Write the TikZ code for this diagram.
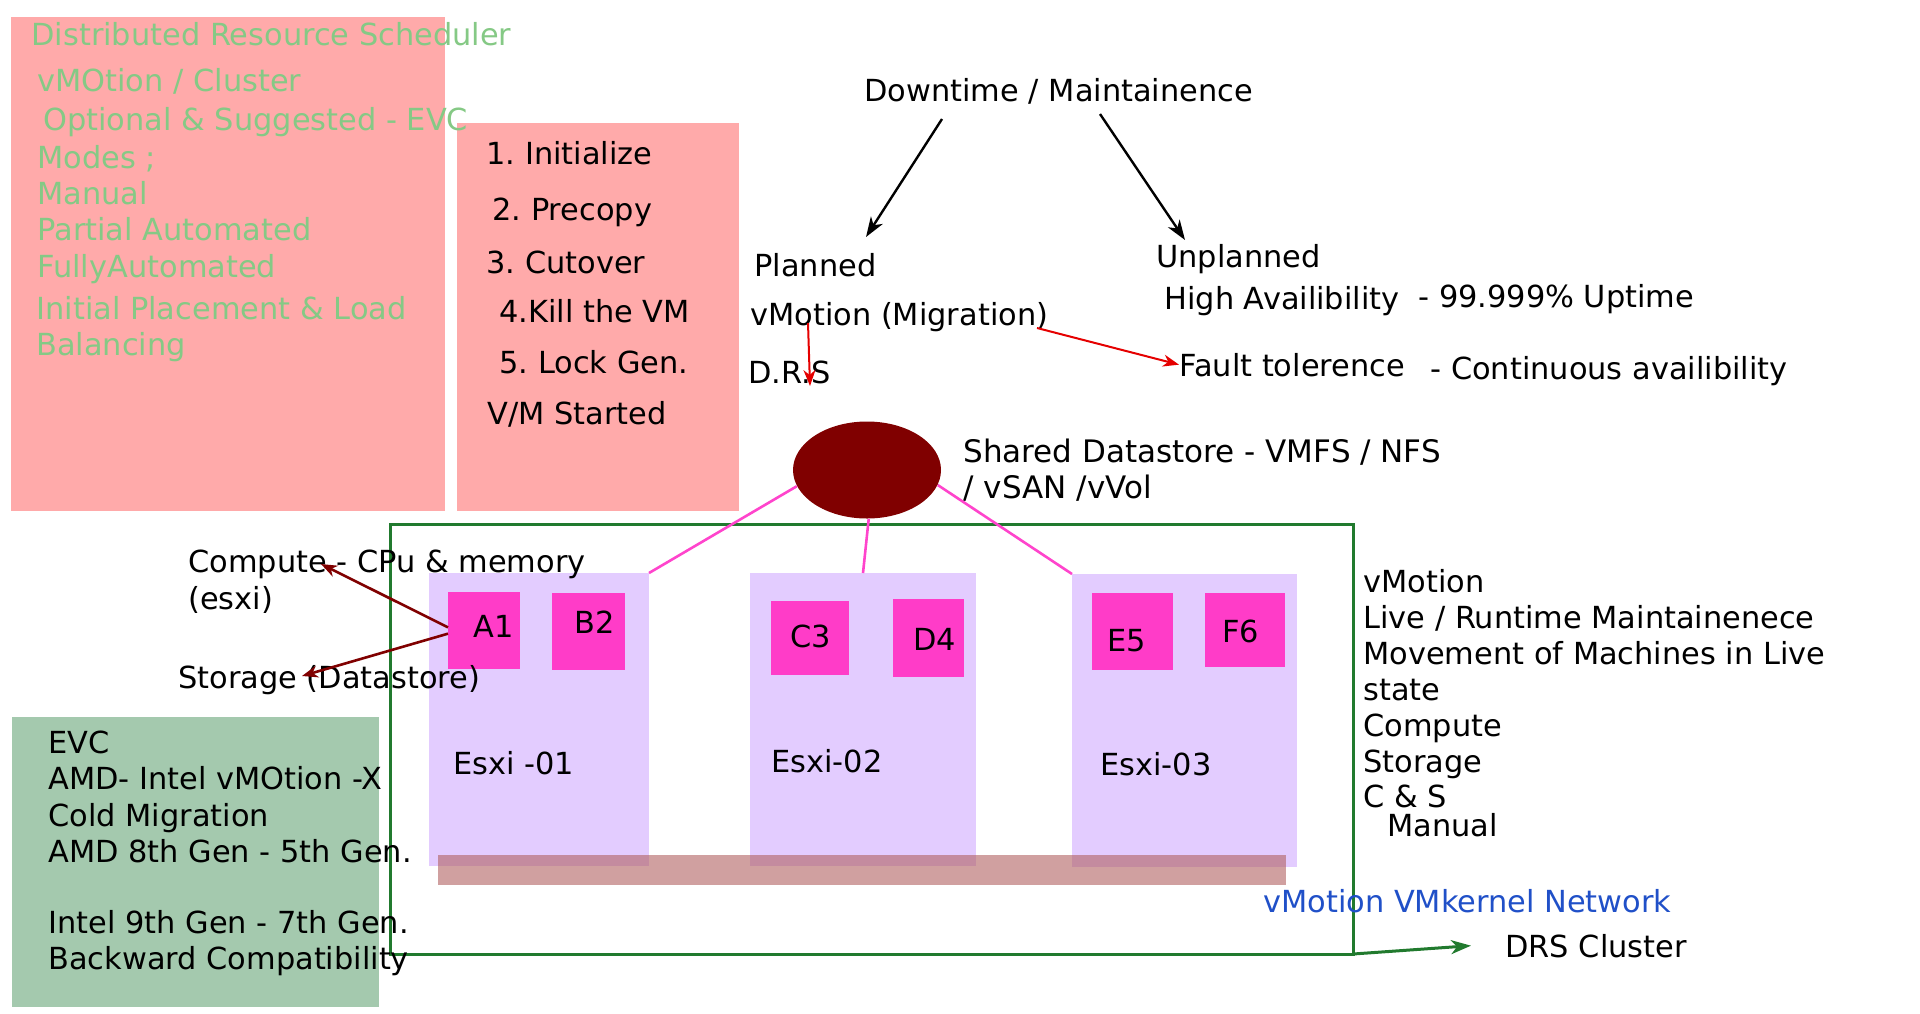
\documentclass[tikz,border=0pt]{standalone}
\usepackage{fontspec}
\setmainfont{DejaVu Sans}
\usepackage{tikz}
\usetikzlibrary{shapes.geometric,arrows.meta}
\frenchspacing
\definecolor{salmon}{HTML}{FFAAAA}
\definecolor{drsgreen}{HTML}{85C985}
\definecolor{evcgreen}{HTML}{A4C9AE}
\definecolor{clustergreen}{HTML}{217A2E}
\definecolor{esxilav}{HTML}{E3CCFF}
\definecolor{vmpink}{HTML}{FF3CC8}
\definecolor{linkpink}{HTML}{FF44CC}
\definecolor{storered}{HTML}{800000}
\definecolor{netbar}{HTML}{B06060}
\definecolor{netblue}{HTML}{2050C8}
\tikzset{
  plainbox/.style={anchor=north west, inner sep=0pt, outer sep=0pt},
  txt/.style={anchor=base west, inner sep=0pt},
  drstxt/.style={txt, text=drsgreen},
  esxibox/.style={plainbox, fill=esxilav, minimum height=146.5pt},
  vmbox/.style={plainbox, fill=vmpink},
  blackarrow/.style={-{Stealth[length=10pt,width=7pt,inset=3pt]}, line width=1.2pt},
  redarrow/.style={-{Stealth[length=8pt,width=6pt,inset=2.5pt]}, line width=1pt, red!90!black},
  darkarrow/.style={-{Stealth[length=8pt,width=6pt,inset=2.5pt]}, line width=1.3pt, storered},
  link/.style={linkpink, line width=1.3pt}
}

\begin{document}
\begin{tikzpicture}[x=0.5pt,y=-0.5pt,every node/.style={font=\fontsize{15.2}{18}\selectfont}]
  \useasboundingbox (0,0) rectangle (1920,1013);
  \node[plainbox, fill=salmon, minimum width=217pt, minimum height=247pt] (drsbox) at (11,17) {};
  \node[plainbox, fill=salmon, minimum width=141pt, minimum height=194pt] (stepsbox) at (457,123) {};
  \node[plainbox, fill=evcgreen, minimum width=183.5pt, minimum height=145pt] (evcbox) at (12,717) {};

  \node[drstxt] (drs1) at (31,45) {Distributed Resource Scheduler};
  \node[drstxt] (drs2) at (37,91) {vMOtion / Cluster};
  \node[drstxt] (drs3) at (43,130) {Optional \& Suggested - EVC};
  \node[drstxt] (drs4) at (37,168) {Modes ;};
  \node[drstxt] (drs5) at (37,204) {Manual};
  \node[drstxt] (drs6) at (37,240) {Partial Automated};
  \node[drstxt] (drs7) at (37,277) {FullyAutomated};
  \node[drstxt] (drs8) at (36,319) {Initial Placement \& Load};
  \node[drstxt] (drs9) at (36,355) {Balancing};

  \node[txt] (step1) at (486,164) {1. Initialize};
  \node[txt] (step2) at (492,220) {2. Precopy};
  \node[txt] (step3) at (486,273) {3. Cutover};
  \node[txt] (step4) at (499,322) {4.Kill the VM};
  \node[txt] (step5) at (499,373) {5. Lock Gen.};
  \node[txt] (step6) at (487,424) {V/M Started};

  \node[txt] (down) at (864,101) {Downtime / Maintainence};
  \node[txt] (planned) at (754,276) {Planned};
  \node[txt] (vmig) at (750,325) {vMotion (Migration)};
  \node[txt] (drsdot) at (748,383) {D.R.S};
  \node[txt] (unplanned) at (1156,267) {Unplanned};
  \node[txt] (ha) at (1164,309) {High Availibility};
  \node[txt] (uptime) at (1418,307) {- 99.999\% Uptime};
  \node[txt] (ft) at (1179,376) {Fault tolerence};
  \node[txt] (contav) at (1430,379) {- Continuous availibility};

  \coordinate (downl) at (942,119);
  \coordinate (downr) at (1100,114);
  \coordinate (plantip) at (866,237);
  \coordinate (unplantip) at (1185,240);
  \draw[blackarrow] (downl) -- (plantip);
  \draw[blackarrow] (downr) -- (unplantip);

  \coordinate (vmigdown) at (808,323);
  \coordinate (drstip) at (810,386);
  \coordinate (vmigright) at (1037,328);
  \draw[redarrow] (vmigdown) -- (drstip);
  \draw[redarrow] (vmigright) -- (ft.west);

  \node[txt, font=\fontsize{15.5}{18}\selectfont] (shared1) at (963,462) {Shared Datastore - VMFS / NFS};
  \node[txt, font=\fontsize{15.5}{18}\selectfont] (shared2) at (963,498) {/ vSAN /vVol};
  \node[ellipse, fill=storered, inner sep=0pt, minimum width=74pt, minimum height=48.5pt] (store) at (867,470) {};

  \node[plainbox, draw=clustergreen, line width=1.5pt, minimum width=481.5pt, minimum height=215pt] (cluster) at (390,524) {};

  \node[esxibox, minimum width=110pt] (esxi1) at (429,573) {};
  \node[esxibox, minimum width=113pt] (esxi2) at (750,573) {};
  \node[esxibox, minimum width=112.5pt] (esxi3) at (1072,574) {};
  \node[plainbox, fill=netbar, fill opacity=0.6, minimum width=424pt, minimum height=15pt] (net) at (438,855) {};

  \draw[link] (store.193) -- (esxi1.north east);
  \draw[link] (store.272) -- (esxi2.north);
  \draw[link] (store.348) -- (esxi3.north west);

  \node[vmbox, minimum width=36pt, minimum height=38.5pt] (A1) at (448,592) {};
  \node[vmbox, minimum width=36.5pt, minimum height=38.5pt] (B2) at (552,593) {};
  \node[vmbox, minimum width=39pt, minimum height=37pt] (C3) at (771,601) {};
  \node[vmbox, minimum width=35.5pt, minimum height=39pt] (D4) at (893,599) {};
  \node[vmbox, minimum width=40.5pt, minimum height=38.5pt] (E5) at (1092,593) {};
  \node[vmbox, minimum width=40pt, minimum height=37pt] (F6) at (1205,593) {};
  \node[txt] (A1l) at (473,637) {A1};
  \node[txt] (B2l) at (574,633) {B2};
  \node[txt] (C3l) at (790,647) {C3};
  \node[txt] (D4l) at (913,650) {D4};
  \node[txt] (E5l) at (1107,651) {E5};
  \node[txt] (F6l) at (1222,642) {F6};

  \node[txt] (esxi1l) at (453,774) {Esxi -01};
  \node[txt] (esxi2l) at (771,772) {Esxi-02};
  \node[txt] (esxi3l) at (1100,775) {Esxi-03};

  \node[txt] (compute) at (188,572) {Compute - CPu \& memory};
  \node[txt] (esxil) at (188,609) {(esxi)};
  \node[txt] (storage) at (178,688) {Storage (Datastore)};
  \coordinate (computetip) at (321,564);
  \coordinate (storagetip) at (302,676);
  \draw[darkarrow] (A1.175) -- (computetip);
  \draw[darkarrow] (A1.185) -- (storagetip);

  \node[txt] (evc1) at (48,753) {EVC};
  \node[txt] (evc2) at (48,789) {AMD- Intel vMOtion -X};
  \node[txt] (evc3) at (48,826) {Cold Migration};
  \node[txt] (evc4) at (48,862) {AMD 8th Gen - 5th Gen.};
  \node[txt] (evc5) at (48,933) {Intel 9th Gen - 7th Gen.};
  \node[txt] (evc6) at (48,969) {Backward Compatibility};

  \node[txt] (live1) at (1363,592) {vMotion};
  \node[txt] (live2) at (1363,628) {Live / Runtime Maintainenece};
  \node[txt] (live3) at (1363,664) {Movement of Machines in Live};
  \node[txt] (live4) at (1363,700) {state};
  \node[txt] (live5) at (1363,736) {Compute};
  \node[txt] (live6) at (1363,772) {Storage};
  \node[txt] (live7) at (1363,807) {C \& S};
  \node[txt] (live8) at (1387,836) {Manual};

  \node[txt, text=netblue] (netl) at (1263,912) {vMotion VMkernel Network};
  \node[txt] (drsc) at (1505,957) {DRS Cluster};
  \draw[blackarrow, clustergreen, line width=1.5pt] (cluster.south east) -- ([xshift=-17pt]drsc.west);
\end{tikzpicture}
\end{document}
